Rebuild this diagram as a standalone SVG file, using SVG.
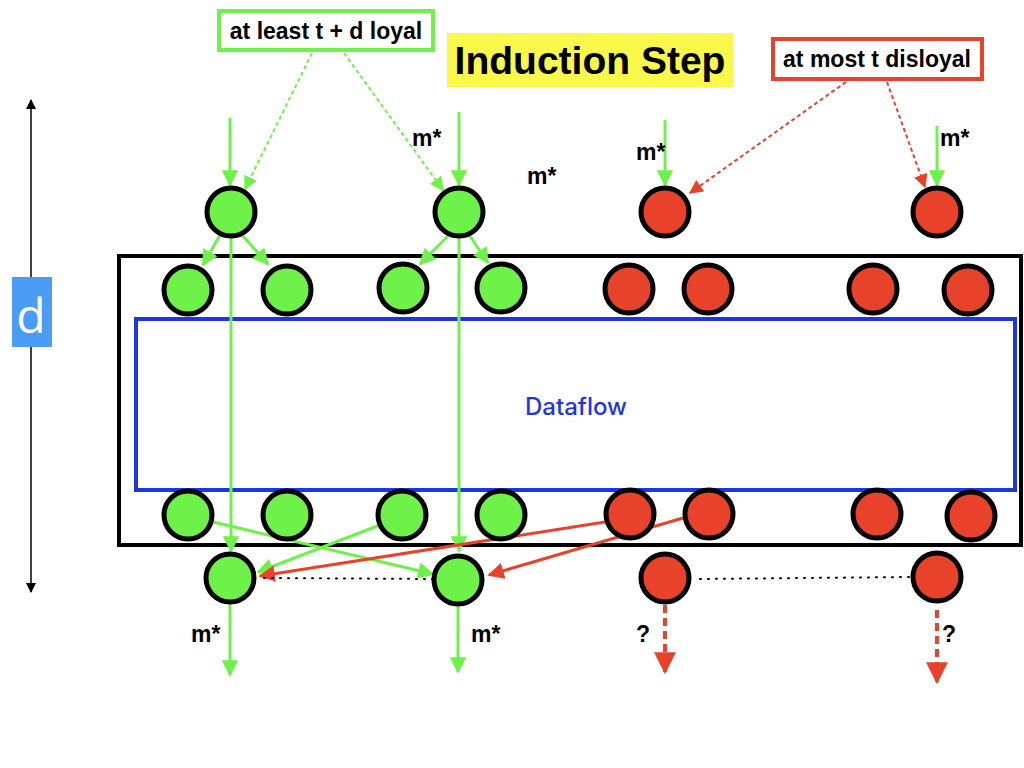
<svg xmlns="http://www.w3.org/2000/svg" width="1024" height="768" viewBox="0 0 1024 768">
<defs>
<style>
.g{fill:#6ef24a;stroke:#000;stroke-width:5}
.r{fill:#e8432a;stroke:#000;stroke-width:5}
.ga{stroke:#6ef24a;stroke-width:3;fill:none}
.ra{stroke:#e8432a;stroke-width:3;fill:none}
.lbl{font-family:"Liberation Sans",Arial,sans-serif;font-weight:bold;font-size:23px;fill:#000}
</style>
<marker id="mg" viewBox="0 0 10 10" refX="9" refY="5" markerWidth="5.5" markerHeight="5.5" orient="auto" markerUnits="strokeWidth"><path d="M0,0L10,5L0,10z" fill="#6ef24a"/></marker>
<marker id="mgs" viewBox="0 0 10 10" refX="9" refY="5" markerWidth="7" markerHeight="7" orient="auto" markerUnits="strokeWidth"><path d="M0,0L10,5L0,10z" fill="#6ef24a"/></marker>
<marker id="mr" viewBox="0 0 10 10" refX="9" refY="5" markerWidth="5.5" markerHeight="5.5" orient="auto" markerUnits="strokeWidth"><path d="M0,0L10,5L0,10z" fill="#e8432a"/></marker>
<marker id="mrs" viewBox="0 0 10 10" refX="9" refY="5" markerWidth="7" markerHeight="7" orient="auto" markerUnits="strokeWidth"><path d="M0,0L10,5L0,10z" fill="#e8432a"/></marker>
<marker id="mk" viewBox="0 0 10 10" refX="9" refY="5" markerWidth="7" markerHeight="7" orient="auto-start-reverse" markerUnits="strokeWidth"><path d="M0,0L10,5L0,10z" fill="#000"/></marker>
</defs>
<rect width="1024" height="768" fill="#fff"/>

<g id="frame">
<rect x="119" y="256" width="902" height="289" fill="none" stroke="#000" stroke-width="4"/>
</g>
<g id="dataflow">
<rect x="136" y="319" width="879" height="171" fill="none" stroke="#1c35e8" stroke-width="4"/>
<text x="576" y="415" text-anchor="middle" font-family="Inter,'Liberation Sans',sans-serif" font-weight="500" font-size="24" fill="#1c35e8">Dataflow</text>
</g>

<g id="depth">
<line x1="31" y1="100" x2="31" y2="592" stroke="#000" stroke-width="1.5" marker-start="url(#mk)" marker-end="url(#mk)"/>
<rect x="12" y="277" width="40" height="70" fill="#4a9cf5"/>
<text x="31" y="333" text-anchor="middle" font-family="'Open Sans','Liberation Sans',sans-serif" font-size="48" fill="#fff">d</text>
</g>

<g id="title">
<rect x="447" y="33" width="286" height="54" fill="#fbf84c"/>
<text x="590" y="74" text-anchor="middle" font-family="'Liberation Sans',Arial,sans-serif" font-weight="bold" font-size="39" fill="#000">Induction Step</text>
</g>

<g id="loyal-label">
<rect x="219" y="11" width="214" height="39" fill="#fff" stroke="#6ef24a" stroke-width="4"/>
<text x="326" y="39" text-anchor="middle" class="lbl">at least t + d loyal</text>
</g>
<g id="disloyal-label">
<rect x="773" y="39" width="209" height="40" fill="#fff" stroke="#e8432a" stroke-width="4"/>
<text x="877" y="67" text-anchor="middle" class="lbl">at most t disloyal</text>
</g>

<g id="connectors">
<line x1="312" y1="53" x2="245" y2="189" stroke="#6ef24a" stroke-width="2" stroke-dasharray="4,3" marker-end="url(#mgs)"/>
<line x1="344" y1="53" x2="443" y2="190" stroke="#6ef24a" stroke-width="2" stroke-dasharray="4,3" marker-end="url(#mgs)"/>
<line x1="846" y1="82" x2="690" y2="193" stroke="#e8432a" stroke-width="2" stroke-dasharray="4,3" marker-end="url(#mrs)"/>
<line x1="887" y1="82" x2="925" y2="187" stroke="#e8432a" stroke-width="2" stroke-dasharray="4,3" marker-end="url(#mrs)"/>
<line x1="230" y1="118" x2="230" y2="185" class="ga" marker-end="url(#mg)"/>
<line x1="459" y1="112" x2="459" y2="185" class="ga" marker-end="url(#mg)"/>
<line x1="665" y1="120" x2="665" y2="185" class="ga" marker-end="url(#mg)"/>
<line x1="937" y1="126" x2="937" y2="185" class="ga" marker-end="url(#mg)"/>
<line x1="220" y1="235" x2="203" y2="265" class="ga" marker-end="url(#mg)"/>
<line x1="242" y1="235" x2="268" y2="264" class="ga" marker-end="url(#mg)"/>
<line x1="448" y1="236" x2="420" y2="264" class="ga" marker-end="url(#mg)"/>
<line x1="470" y1="236" x2="488" y2="263" class="ga" marker-end="url(#mg)"/>
<line x1="231" y1="237" x2="231" y2="551" class="ga" marker-end="url(#mg)"/>
<line x1="459" y1="237" x2="459" y2="551" class="ga" marker-end="url(#mg)"/>
<line x1="213" y1="522" x2="433" y2="574" class="ga" marker-end="url(#mg)"/>
<line x1="380" y1="525" x2="258" y2="572" class="ga" marker-end="url(#mg)"/>
<line x1="605" y1="522" x2="260" y2="576" class="ra" marker-end="url(#mr)"/>
<line x1="683" y1="518" x2="489" y2="575" class="ra" marker-end="url(#mr)"/>
<line x1="264" y1="578" x2="432" y2="579" stroke="#000" stroke-width="2" stroke-dasharray="1,7" stroke-linecap="round"/>
<line x1="700" y1="579" x2="910" y2="577" stroke="#000" stroke-width="2" stroke-dasharray="1,7" stroke-linecap="round"/>
<line x1="230" y1="603" x2="230" y2="675" class="ga" marker-end="url(#mg)"/>
<line x1="458" y1="605" x2="458" y2="672" class="ga" marker-end="url(#mg)"/>
<line x1="665" y1="605" x2="665" y2="672" stroke="#e8432a" stroke-width="4" stroke-dasharray="8,5" marker-end="url(#mr)"/>
<line x1="937" y1="610" x2="937" y2="682" stroke="#e8432a" stroke-width="4" stroke-dasharray="8,5" marker-end="url(#mr)"/>
</g>

<g id="edge-labels" class="lbl">
<text x="412" y="146">m*</text>
<text x="527" y="184">m*</text>
<text x="636" y="160">m*</text>
<text x="940" y="146">m*</text>
<text x="191" y="642">m*</text>
<text x="471" y="642">m*</text>
<text x="636" y="642">?</text>
<text x="942" y="642">?</text>
</g>

<g id="top-nodes">
<circle id="t1" cx="231" cy="212" r="24" class="g"/>
<circle id="t2" cx="459" cy="212" r="24" class="g"/>
<circle id="t3" cx="665" cy="212" r="24" class="r"/>
<circle id="t4" cx="937" cy="212" r="24" class="r"/>
</g>
<g id="upper-row">
<circle id="u1" cx="188" cy="290" r="24" class="g"/>
<circle id="u2" cx="287" cy="290" r="24" class="g"/>
<circle id="u3" cx="403" cy="288" r="24" class="g"/>
<circle id="u4" cx="501" cy="288" r="24" class="g"/>
<circle id="u5" cx="629" cy="289" r="24" class="r"/>
<circle id="u6" cx="708" cy="289" r="24" class="r"/>
<circle id="u7" cx="873" cy="289" r="24" class="r"/>
<circle id="u8" cx="968" cy="290" r="24" class="r"/>
</g>
<g id="lower-row">
<circle id="l1" cx="188" cy="515" r="24" class="g"/>
<circle id="l2" cx="287" cy="515" r="24" class="g"/>
<circle id="l3" cx="402" cy="515" r="24" class="g"/>
<circle id="l4" cx="501" cy="515" r="24" class="g"/>
<circle id="l5" cx="630" cy="514" r="24" class="r"/>
<circle id="l6" cx="709" cy="514" r="24" class="r"/>
<circle id="l7" cx="877" cy="514" r="24" class="r"/>
<circle id="l8" cx="971" cy="516" r="24" class="r"/>
</g>
<g id="bottom-nodes">
<circle id="b1" cx="230" cy="578" r="24" class="g"/>
<circle id="b2" cx="458" cy="580" r="24" class="g"/>
<circle id="b3" cx="665" cy="578" r="24" class="r"/>
<circle id="b4" cx="937" cy="577" r="24" class="r"/>
</g>
</svg>
